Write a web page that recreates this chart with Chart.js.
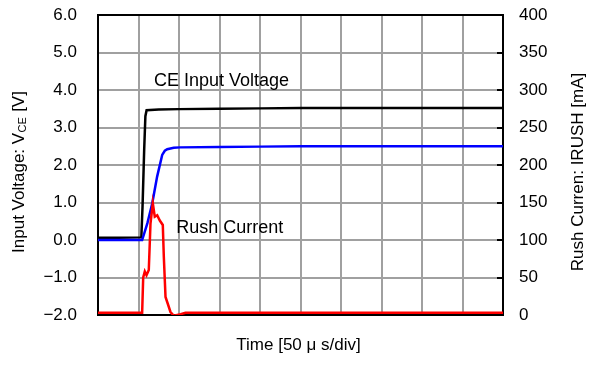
<!DOCTYPE html>
<html>
<head>
<meta charset="utf-8">
<script src="https://cdn.jsdelivr.net/npm/chart.js@4/dist/chart.umd.min.js"></script>
<style>
  html, body { margin: 0; padding: 0; background: #fff; }
  #wrap { width: 589px; height: 365px; }
</style>
</head>
<body>
<div id="wrap"><canvas id="c" width="589" height="365"></canvas></div>
<script>
// ---- data (time in divisions, 50 µs/div) ----
const ceTime = [0, 0.5, 1.07, 1.10, 1.14, 1.17, 1.20, 1.5, 2, 3, 4, 5, 6, 7, 8, 9, 10];
const ceVolt = [0.06, 0.06, 0.07, 0.9, 2.4, 3.3, 3.46, 3.48, 3.49, 3.50, 3.51, 3.52, 3.52, 3.52, 3.52, 3.52, 3.52];

const outTime = [0, 1.09, 1.22, 1.34, 1.46, 1.585, 1.65, 1.71, 1.87, 2.03, 3, 4, 5, 6, 7, 8, 9, 10];
const outVolt = [0.0, 0.0, 0.45, 0.98, 1.69, 2.27, 2.38, 2.42, 2.46, 2.47, 2.48, 2.49, 2.50, 2.50, 2.50, 2.50, 2.50, 2.50];

const rushTime = [0, 1, 1.09, 1.116, 1.156, 1.198, 1.254, 1.296, 1.353, 1.402, 1.462, 1.526, 1.60, 1.625, 1.667, 1.723, 1.79, 1.872, 2.04, 2.16, 3, 4, 5, 6, 7, 8, 9, 10];
const rushMA   = [3, 3, 3, 50, 58, 53, 60, 122, 149, 131, 133, 126, 120, 78, 24, 15, 4, -1, 1, 3, 3, 3, 3, 3, 3, 3, 3, 3];

const leftTicks = [-2, -1, 0, 1, 2, 3, 4, 5, 6];
const rightTicks = [0, 50, 100, 150, 200, 250, 300, 350, 400];

const labelCE = 'CE Input Voltage';
const labelRush = 'Rush Current';
const xTitle = 'Time [50 μ s/div]';
const yTitleMain = 'Input Voltage: V';
const yTitleSub = 'CE';
const yTitleEnd = ' [V]';
const y2Title = 'Rush Curren: IRUSH [mA]';

const pts = (xs, ys) => xs.map((x, i) => ({ x: x, y: ys[i] }));
const FONT = '"Liberation Sans", Arial, sans-serif';

const decor = {
  id: 'decor',
  beforeDatasetsDraw(chart) {
    const { ctx, chartArea: a } = chart;
    ctx.save();
    ctx.strokeStyle = '#000';
    ctx.lineWidth = 2;
    ctx.strokeRect(a.left, a.top, a.right - a.left, a.bottom - a.top);
    const y2 = chart.scales.y2;
    ctx.beginPath();
    y2.ticks.forEach(t => {
      const py = Math.round(y2.getPixelForValue(t.value));
      ctx.moveTo(a.right - 6, py);
      ctx.lineTo(a.right, py);
    });
    ctx.stroke();
    ctx.restore();
  },
  afterDraw(chart) {
    const { ctx, chartArea: a } = chart;
    const xs = chart.scales.x, ys = chart.scales.y;
    ctx.save();
    ctx.fillStyle = '#000';
    // annotations
    ctx.font = '18px ' + FONT;
    ctx.textAlign = 'left';
    ctx.textBaseline = 'middle';
    ctx.fillText(labelCE, xs.getPixelForValue(1.38), ys.getPixelForValue(4.25));
    ctx.fillText(labelRush, xs.getPixelForValue(1.93), ys.getPixelForValue(0.33));

    // x title
    ctx.font = '17px ' + FONT;
    ctx.textAlign = 'center';
    ctx.fillText(xTitle, (a.left + a.right) / 2 - 2, 345);

    // left title with subscript
    ctx.save();
    ctx.translate(19, 172.5);
    ctx.rotate(-Math.PI / 2);
    ctx.textAlign = 'left';
    ctx.font = '17px ' + FONT;
    const w1 = ctx.measureText(yTitleMain).width;
    const w3 = ctx.measureText(yTitleEnd).width;
    ctx.font = '11px ' + FONT;
    const w2 = ctx.measureText(yTitleSub).width;
    let x0 = -(w1 + w2 + w3) / 2;
    ctx.font = '17px ' + FONT;
    ctx.fillText(yTitleMain, x0, 0);
    ctx.font = '11px ' + FONT;
    ctx.fillText(yTitleSub, x0 + w1 + 0.5, 4);
    ctx.font = '17px ' + FONT;
    ctx.fillText(yTitleEnd, x0 + w1 + w2 + 1, 0);
    ctx.restore();

    // right title
    ctx.save();
    ctx.translate(578, 172);
    ctx.rotate(-Math.PI / 2);
    ctx.textAlign = 'center';
    ctx.font = '17px ' + FONT;
    ctx.fillText(y2Title, 0, 0);
    ctx.restore();

    ctx.restore();
  }
};

new Chart(document.getElementById('c'), {
  type: 'line',
  data: {
    datasets: [
      { label: 'CE Input Voltage', data: pts(ceTime, ceVolt), yAxisID: 'y', borderColor: '#000000', borderWidth: 2.5, order: 2 },
      { label: 'Output Voltage', data: pts(outTime, outVolt), yAxisID: 'y', borderColor: '#0000ff', borderWidth: 2.5, order: 1 },
      { label: 'Rush Current', data: pts(rushTime, rushMA), yAxisID: 'y2', borderColor: '#ff0000', borderWidth: 2.5, order: 0 }
    ]
  },
  options: {
    responsive: false,
    animation: false,
    events: [],
    elements: { point: { radius: 0 }, line: { tension: 0, fill: false } },
    layout: { padding: { top: 15, bottom: 0, left: 0, right: 0 } },
    plugins: { legend: { display: false }, tooltip: { enabled: false } },
    scales: {
      x: {
        type: 'linear', min: 0, max: 10,
        ticks: { display: false, stepSize: 1 },
        grid: { color: '#a0a0a0', lineWidth: 2, drawTicks: false },
        border: { display: false },
        afterFit(s) { s.height = 50; s.paddingLeft = 0; s.paddingRight = 0; }
      },
      y: {
        position: 'left', min: -2, max: 6,
        afterBuildTicks(s) { s.ticks = leftTicks.map(v => ({ value: v })); },
        ticks: {
          color: '#000', padding: 21, font: { family: FONT, size: 17 },
          callback: v => (v < 0 ? '\u2212' : '') + Math.abs(v).toFixed(1)
        },
        grid: { color: '#a0a0a0', lineWidth: 2, drawTicks: false },
        border: { display: false },
        afterFit(s) { s.width = 98; s.paddingTop = 0; s.paddingBottom = 0; }
      },
      y2: {
        position: 'right', min: 0, max: 400,
        afterBuildTicks(s) { s.ticks = rightTicks.map(v => ({ value: v })); },
        ticks: { color: '#000', padding: 16, font: { family: FONT, size: 17 } },
        grid: { display: false, drawTicks: false },
        border: { display: false },
        afterFit(s) { s.width = 86; s.paddingTop = 0; s.paddingBottom = 0; }
      }
    }
  },
  plugins: [decor]
});
</script>
</body>
</html>
